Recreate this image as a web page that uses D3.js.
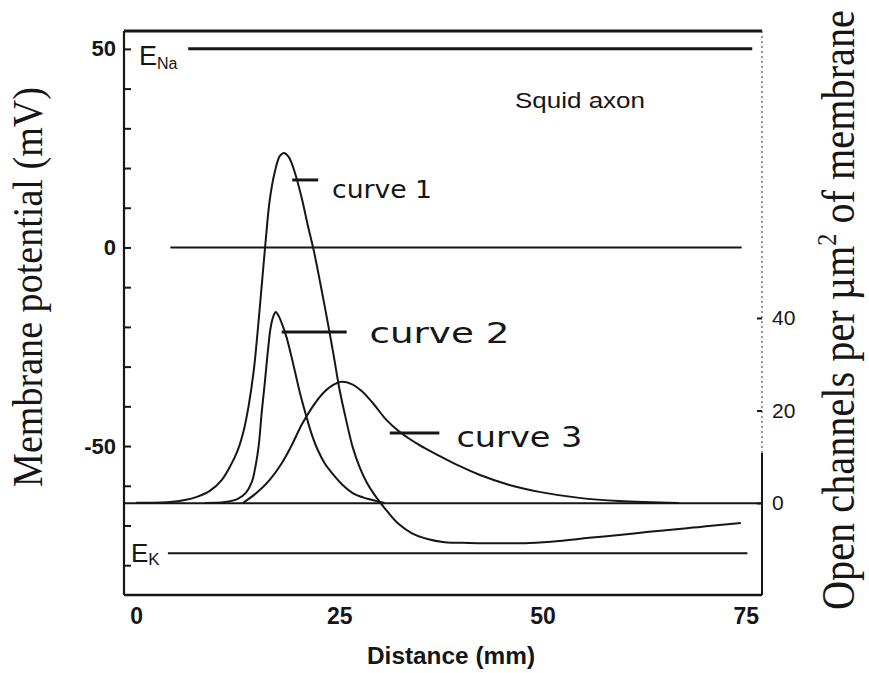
<!DOCTYPE html>
<html>
<head>
<meta charset="utf-8">
<script src="https://cdn.jsdelivr.net/npm/d3@7"></script>
<style>
  html, body { margin: 0; padding: 0; background: #fff; }
  svg { display: block; }
</style>
</head>
<body>
<svg id="chart" width="869" height="673"></svg>
<script>
// ---------------- DATA ----------------
// Curve 1: membrane potential (mV) vs distance (mm)
const curve1Distance = [0, 4.15, 5.99, 7.47, 9.06, 10.54, 11.64, 12.5, 13.24, 13.85, 14.47, 14.96, 15.45, 15.94, 16.43, 17.05, 17.66, 18.15, 18.76, 19.5, 20.36, 21.1, 21.83, 22.7, 23.56, 24.29, 25.03, 25.77, 26.63, 27.49, 28.35, 29.33, 30.56, 32.16, 33.88, 35.84, 37.93, 41.0, 44.69, 48.36, 52.05, 55.73, 59.42, 63.1, 66.79, 70.47, 74.4];
const curve1Potential = [-64.3, -64.1, -63.6, -62.8, -61.3, -58.5, -54.8, -51.0, -46.0, -39.7, -30.9, -20.8, -9.5, 1.9, 11.9, 19.0, 23.0, 23.8, 22.8, 19.0, 12.5, 5.7, -0.6, -9.5, -18.8, -27.1, -35.9, -42.9, -50.2, -55.3, -59.1, -62.3, -65.6, -69.4, -71.9, -73.4, -74.2, -74.4, -74.5, -74.4, -73.9, -73.1, -72.4, -71.6, -70.9, -70.1, -69.4];
// Curve 2: open Na channels per um^2 vs distance (mm)
const curve2Distance = [8.45, 10.91, 12.5, 13.49, 14.22, 14.71, 15.08, 15.45, 15.82, 16.19, 16.56, 16.93, 17.17, 17.54, 18.03, 18.52, 19.26, 20.12, 20.86, 21.59, 22.33, 23.19, 24.17, 25.4, 26.88, 28.47, 30.56];
const curve2Channels = [0, 0.2, 0.9, 2.2, 4.5, 8.2, 12.5, 19.7, 25.9, 32.6, 38.1, 40.6, 41.3, 40.4, 38.3, 35.7, 30.5, 24.0, 19.2, 14.9, 11.5, 8.6, 6.3, 3.9, 1.9, 0.9, 0];
// Curve 3: open K channels per um^2 vs distance (mm)
const curve3Distance = [13.12, 14.96, 16.43, 17.91, 19.14, 20.36, 21.59, 22.82, 24.05, 25.28, 26.51, 27.74, 29.21, 30.81, 32.4, 34.86, 37.3, 39.76, 42.22, 45.91, 49.59, 54.5, 59.42, 66.79];
const curve3Channels = [0, 2.4, 5.0, 8.6, 12.5, 16.9, 20.5, 23.4, 25.3, 26.2, 25.7, 24.2, 21.4, 17.9, 15.4, 12.5, 10.2, 8.0, 6.1, 3.9, 2.4, 1.1, 0.4, 0];
// Reference levels (mV) and their extents (mm)
const levelNames = ["ENa", "zero", "EK", "rest"];
const levelValues = [50, 0, -77, -64.4];
const levelStart = [6.4, 4.2, 3.9, -1.5];
const levelEnd = [75.8, 74.5, 75.2, 77];
// Tick labels
const xTicks = [0, 25, 50, 75];
const leftTicks = [-80, -70, -60, -50, -40, -30, -20, -10, 0, 10, 20, 30, 40, 50];
const leftTickLabels = [-50, 0, 50];
const rightTicks = [0, 20, 40];
// Annotations
const annotLabels = ["curve 1", "curve 2", "curve 3"];
const annotLeaderStart = [19.2, 17.9, 31.2];
const annotLeaderEnd = [22.4, 25.9, 37.3];
const annotLeaderV = [17.0, -21.3, -46.7];
const annotTextX = [24.1, 28.7, 39.4];
const annotTextV = [12.5, -24, -50.3];

// ---------------- SCALES ----------------
const svg = d3.select("#chart");
const x = d3.scaleLinear().domain([-1.5, 77]).range([124, 762]);
const yL = d3.scaleLinear().domain([-87.5, 54.5]).range([595, 31]);
const yR = d3.scaleLinear().domain([-19.9, 102.05]).range([595, 31]);
const ink = "#161616";

svg.append("rect").attr("width", 869).attr("height", 673).attr("fill", "#fff");

// ---------------- FRAME ----------------
const g = svg.append("g");
g.append("line").attr("x1", x(-1.5)).attr("x2", x(77)).attr("y1", yL(54.5)).attr("y2", yL(54.5))
  .attr("stroke", ink).attr("stroke-width", 3);
g.append("line").attr("x1", x(-1.5)).attr("x2", x(-1.5)).attr("y1", yL(54.5)).attr("y2", yL(-87.5))
  .attr("stroke", ink).attr("stroke-width", 2.2);
g.append("line").attr("x1", x(-1.5)).attr("x2", x(77)).attr("y1", yL(-87.5)).attr("y2", yL(-87.5))
  .attr("stroke", ink).attr("stroke-width", 2.6);
g.append("line").attr("x1", x(77)).attr("x2", x(77)).attr("y1", yR(102.05)).attr("y2", yR(10.8))
  .attr("stroke", "#555").attr("stroke-width", 1.2).attr("stroke-dasharray", "2,3");
g.append("line").attr("x1", x(77)).attr("x2", x(77)).attr("y1", yR(10.8)).attr("y2", yR(-19.9))
  .attr("stroke", ink).attr("stroke-width", 2);

// ---------------- AXES ----------------
const leftAxis = d3.axisLeft(yL).tickValues(leftTicks).tickSize(-7).tickPadding(8)
  .tickFormat(d => leftTickLabels.includes(d) ? (d < 0 ? "-" + Math.abs(d) : String(d)) : "");
const la = svg.append("g").attr("transform", `translate(${x(-1.5)},0)`).call(leftAxis);
la.select(".domain").remove();
la.selectAll("line").attr("stroke", ink).attr("stroke-width", 2);
la.selectAll("text").attr("font-family", "Liberation Sans, Arial, sans-serif").attr("font-size", 22)
  .attr("fill", ink).attr("font-weight", "bold");

const rightAxis = d3.axisRight(yR).tickValues(rightTicks).tickSize(-5).tickPadding(10)
  .tickFormat(d => String(d));
const ra = svg.append("g").attr("transform", `translate(${x(77)},0)`).call(rightAxis);
ra.select(".domain").remove();
ra.selectAll("line").attr("stroke", ink).attr("stroke-width", 2);
ra.selectAll("text").attr("font-family", "Liberation Sans, Arial, sans-serif").attr("font-size", 21)
  .attr("fill", ink);

const bottomAxis = d3.axisBottom(x).tickValues(xTicks).tickSize(0).tickPadding(13)
  .tickFormat(d => String(d));
const ba = svg.append("g").attr("transform", `translate(0,${yL(-87.5)})`).call(bottomAxis);
ba.select(".domain").remove();
ba.selectAll("text").attr("font-family", "Liberation Sans, Arial, sans-serif").attr("font-size", 23)
  .attr("fill", ink).attr("font-weight", "bold");

// ---------------- REFERENCE LEVELS ----------------
levelValues.forEach((v, i) => {
  svg.append("line")
    .attr("x1", x(levelStart[i])).attr("x2", x(levelEnd[i]))
    .attr("y1", yL(v)).attr("y2", yL(v))
    .attr("stroke", ink).attr("stroke-width", levelNames[i] === "ENa" ? 3 : 2);
});

// ---------------- CURVES ----------------
const curveType = d3.curveCatmullRom.alpha(0.5);
const lineL = d3.line().x(d => x(d[0])).y(d => yL(d[1])).curve(curveType);
const lineR = d3.line().x(d => x(d[0])).y(d => yR(d[1])).curve(curveType);
const c1 = curve1Distance.map((d, i) => [d, curve1Potential[i]]);
const c2 = curve2Distance.map((d, i) => [d, curve2Channels[i]]);
const c3 = curve3Distance.map((d, i) => [d, curve3Channels[i]]);
[[c1, lineL], [c2, lineR], [c3, lineR]].forEach(([data, gen]) => {
  svg.append("path").datum(data).attr("d", gen).attr("fill", "none")
    .attr("stroke", ink).attr("stroke-width", 2).attr("stroke-linejoin", "round");
});

// ---------------- ANNOTATIONS ----------------
annotLabels.forEach((lab, i) => {
  svg.append("line")
    .attr("x1", x(annotLeaderStart[i])).attr("x2", x(annotLeaderEnd[i]))
    .attr("y1", yL(annotLeaderV[i])).attr("y2", yL(annotLeaderV[i]))
    .attr("stroke", ink).attr("stroke-width", 3);
  svg.append("text").attr("x", x(annotTextX[i])).attr("y", yL(annotTextV[i]))
    .attr("font-family", "DejaVu Sans, sans-serif")
    .attr("font-size", i === 0 ? 24 : 28).attr("fill", ink)
    .attr("textLength", [100, 140, 126][i]).attr("lengthAdjust", "spacingAndGlyphs")
    .text(lab);
});

// E_Na and E_K labels
const ena = svg.append("text").attr("x", 139).attr("y", 65)
  .attr("font-family", "Liberation Sans, Arial, sans-serif").attr("font-size", 27).attr("fill", ink);
ena.append("tspan").text("E");
ena.append("tspan").attr("font-size", 16).attr("dy", 4).text("Na");
const ek = svg.append("text").attr("x", 131).attr("y", 562)
  .attr("font-family", "Liberation Sans, Arial, sans-serif").attr("font-size", 26).attr("fill", ink);
ek.append("tspan").text("E");
ek.append("tspan").attr("font-size", 17).attr("dy", 3).text("K");

// Squid axon
svg.append("text").attr("x", 515).attr("y", 108)
  .attr("font-family", "Liberation Sans, Arial, sans-serif").attr("font-size", 22).attr("fill", ink)
  .attr("textLength", 130).attr("lengthAdjust", "spacingAndGlyphs").text("Squid axon");

// Axis titles
svg.append("text").attr("x", 451).attr("y", 664).attr("text-anchor", "middle")
  .attr("font-family", "Liberation Sans, Arial, sans-serif").attr("font-size", 23).attr("font-weight", "bold")
  .attr("fill", ink).attr("textLength", 168).attr("lengthAdjust", "spacingAndGlyphs").text("Distance (mm)");

svg.append("text").attr("transform", "translate(42,287) rotate(-90) scale(1,1.1)")
  .attr("text-anchor", "middle").attr("font-family", "Liberation Serif, Times New Roman, serif")
  .attr("font-size", 38).attr("fill", ink)
  .attr("textLength", 400).attr("lengthAdjust", "spacingAndGlyphs")
  .text("Membrane potential (mV)");

const rt = svg.append("text").attr("transform", "translate(854,310) rotate(-90) scale(1,1.15)")
  .attr("text-anchor", "middle").attr("font-family", "Liberation Serif, Times New Roman, serif")
  .attr("font-size", 40).attr("fill", ink)
  .attr("textLength", 600).attr("lengthAdjust", "spacingAndGlyphs");
rt.append("tspan").text("Open channels per µm");
rt.append("tspan").attr("font-size", 24).attr("dy", -16).text("2");
rt.append("tspan").attr("dy", 16).text(" of membrane");
</script>
</body>
</html>
